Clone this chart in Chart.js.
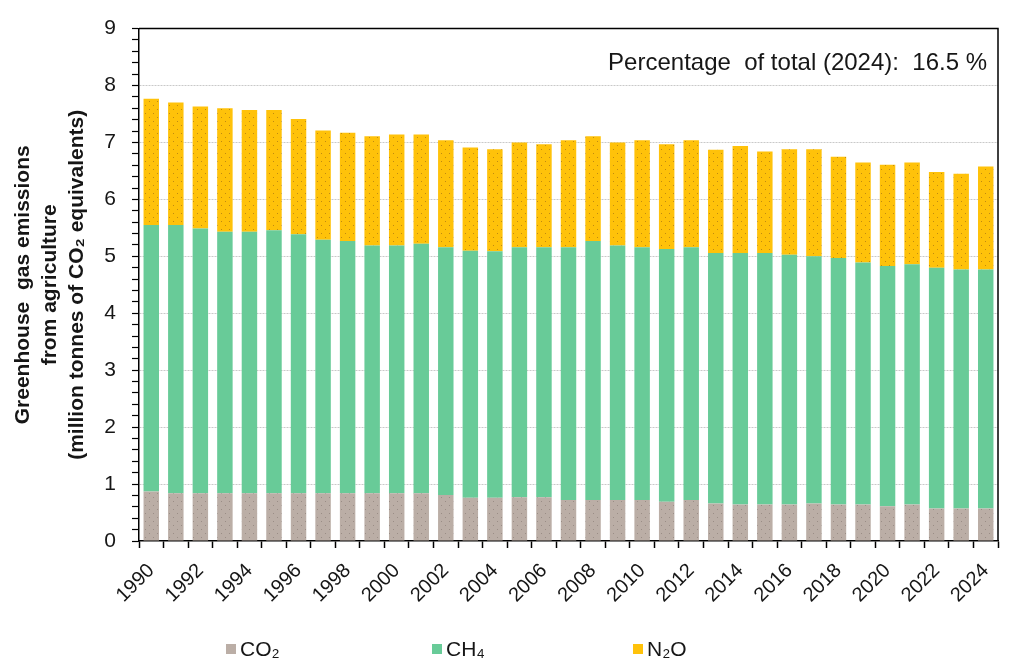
<!DOCTYPE html>
<html>
<head>
<meta charset="utf-8">
<script src="https://cdn.jsdelivr.net/npm/chart.js@4.4.1/dist/chart.umd.min.js"></script>
<style>
  html, body { margin: 0; padding: 0; background: #fff; }
  #wrap { width: 1024px; height: 672px; position: relative; }
</style>
</head>
<body>
<div id="wrap"><canvas id="chart"></canvas></div>
<script>
const years = [1990, 1991, 1992, 1993, 1994, 1995, 1996, 1997, 1998, 1999,
  2000, 2001, 2002, 2003, 2004, 2005, 2006, 2007, 2008, 2009,
  2010, 2011, 2012, 2013, 2014, 2015, 2016, 2017, 2018, 2019,
  2020, 2021, 2022, 2023, 2024];

// million tonnes CO2 equivalents
const co2 = [0.87, 0.84, 0.84, 0.84, 0.84, 0.84, 0.84, 0.84, 0.84, 0.84,
  0.84, 0.84, 0.81, 0.76, 0.76, 0.77, 0.77, 0.72, 0.72, 0.72,
  0.72, 0.69, 0.72, 0.66, 0.64, 0.64, 0.64, 0.66, 0.64, 0.64,
  0.61, 0.64, 0.57, 0.57, 0.57];
const ch4 = [4.68, 4.71, 4.65, 4.59, 4.59, 4.62, 4.55, 4.45, 4.43, 4.35,
  4.35, 4.38, 4.35, 4.34, 4.33, 4.39, 4.39, 4.44, 4.55, 4.47,
  4.44, 4.44, 4.44, 4.40, 4.42, 4.42, 4.39, 4.34, 4.33, 4.25,
  4.22, 4.22, 4.23, 4.20, 4.20];
const n2o = [2.22, 2.15, 2.14, 2.17, 2.14, 2.11, 2.02, 1.92, 1.90, 1.92,
  1.95, 1.92, 1.88, 1.81, 1.79, 1.84, 1.81, 1.88, 1.84, 1.81,
  1.88, 1.84, 1.88, 1.81, 1.88, 1.78, 1.85, 1.88, 1.78, 1.76,
  1.78, 1.79, 1.68, 1.68, 1.81];

const seriesNames = ['CO₂', 'CH₄', 'N₂O'];
const shareText = 'Percentage  of total (2024):  16.5 %';
const yTitle = ['Greenhouse  gas emissions', 'from agriculture', '(million tonnes of CO₂ equivalents)'];

const FONT = '"Liberation Sans", Arial, sans-serif';
const TEXT = '#161616';
const colors = ['#bbaea6', '#68cb98', '#ffc20a'];

function dotted (base, dot) {
  const c = document.createElement('canvas');
  c.width = 8;
  c.height = 8;
  const g = c.getContext('2d');
  g.fillStyle = base;
  g.fillRect(0, 0, 8, 8);
  g.fillStyle = dot;
  g.fillRect(1, 1, 1, 1);
  g.fillRect(5, 5, 1, 1);
  return g.createPattern(c, 'repeat');
}

const fills = [
  dotted(colors[0], '#9a8d86'),
  colors[1],
  dotted(colors[2], '#c08a10')
];

// frame, share note and legend
const extras = {
  id: 'extras',
  afterDraw (chart) {
    const { ctx, chartArea: a } = chart;
    ctx.save();
    ctx.strokeStyle = '#000';
    ctx.lineWidth = 1.5;
    ctx.beginPath();
    ctx.moveTo(a.left, a.top);
    ctx.lineTo(a.right, a.top);
    ctx.lineTo(a.right, a.bottom);
    ctx.stroke();

    ctx.fillStyle = TEXT;
    ctx.font = '24px ' + FONT;
    ctx.textAlign = 'right';
    ctx.textBaseline = 'alphabetic';
    ctx.fillText(shareText, 987, 70);

    const xs = [226, 432, 633];
    ctx.font = '21px ' + FONT;
    ctx.textAlign = 'left';
    ctx.textBaseline = 'middle';
    seriesNames.forEach((name, i) => {
      ctx.fillStyle = colors[i];
      ctx.fillRect(xs[i], 644, 10, 10);
      ctx.fillStyle = TEXT;
      ctx.fillText(name, xs[i] + 14, 650);
    });
    ctx.restore();
  }
};

const isWhole = v => Math.abs(v - Math.round(v)) < 1e-6;

// eslint-disable-next-line no-undef
new Chart('chart', {
  type: 'bar',
  data: {
    labels: years.map(String),
    datasets: [
      { label: seriesNames[0], data: co2, backgroundColor: fills[0] },
      { label: seriesNames[1], data: ch4, backgroundColor: fills[1] },
      { label: seriesNames[2], data: n2o, backgroundColor: fills[2] }
    ]
  },
  options: {
    responsive: true,
    maintainAspectRatio: false,
    animation: false,
    layout: { padding: { top: 23, right: 26, left: 0, bottom: 0 } },
    datasets: { bar: { categoryPercentage: 1, barPercentage: 0.63, borderWidth: 0 } },
    plugins: {
      legend: { display: false },
      tooltip: { enabled: false }
    },
    scales: {
      x: {
        stacked: true,
        afterFit: scale => { scale.height = 131; },
        grid: { offset: true, drawOnChartArea: false, tickLength: 7, tickColor: '#000', tickWidth: 1.5 },
        border: { color: '#000', width: 1.5 },
        ticks: {
          autoSkip: false,
          maxRotation: 45,
          minRotation: 45,
          padding: 11,
          color: TEXT,
          font: { family: FONT, size: 20 },
          callback: (v, i) => (i % 2 === 0 ? years[i] : '')
        }
      },
      y: {
        stacked: true,
        min: 0,
        max: 9,
        afterFit: scale => { scale.width = 139; },
        grid: {
          color: ctx => (isWhole(ctx.tick.value) && ctx.tick.value > 0 && ctx.tick.value < 9 ? '#c9c9c9' : 'rgba(0,0,0,0)'),
          tickColor: '#000',
          tickLength: 7,
          tickWidth: 1.2
        },
        border: { color: '#000', width: 1.5, dash: [2, 1] },
        ticks: {
          stepSize: 0.2,
          autoSkip: false,
          padding: 16,
          color: TEXT,
          font: { family: FONT, size: 21 },
          callback: v => (isWhole(v) ? String(Math.round(v)) : '')
        },
        title: {
          display: true,
          text: yTitle,
          color: TEXT,
          font: { family: FONT, size: 21, weight: 'bold', lineHeight: 1.28 },
          padding: { top: 10, bottom: 0 }
        }
      }
    }
  },
  plugins: [extras]
});
</script>
</body>
</html>
